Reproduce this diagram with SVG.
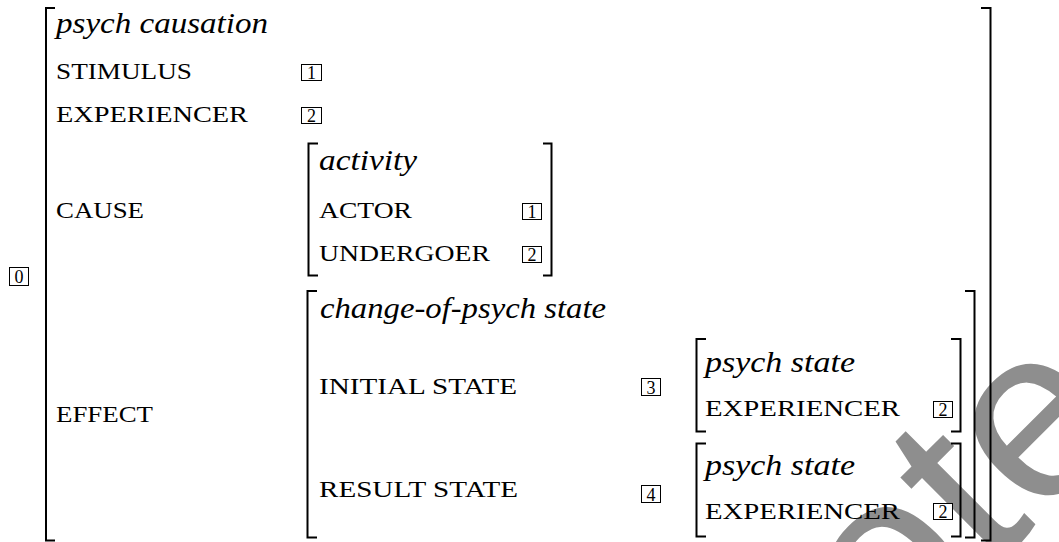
<svg xmlns="http://www.w3.org/2000/svg" width="1059" height="542" viewBox="0 0 1059 542">
<style>
.br{fill:none;stroke:#000;stroke-width:2}
.it{font-family:"Liberation Serif",serif;font-style:italic;font-size:29px;fill:#000}
.sc{font-family:"Liberation Serif",serif;font-size:23px;fill:#000}
.bx{fill:#fff;stroke:#000;stroke-width:1}
.d{font-family:"Liberation Serif",serif;font-size:18px;text-anchor:middle;fill:#000}
.wm{font-family:"Liberation Sans",Arial,sans-serif;font-size:245px;fill:#8e8e8e}
</style>
<rect width="1059" height="542" fill="#fff"/>
<g id="watermark"><text class="wm" transform="translate(893,668) rotate(-45)">ote</text></g>
<g id="brackets">
<path class="br" d="M55 8H46V540.5H55"/>
<path class="br" d="M981 8H990.5V540.5H981"/>
<path class="br" d="M318 143.5H308.5V275.5H318"/>
<path class="br" d="M543 143.5H551.5V275.5H543"/>
<path class="br" d="M317 291H307.5V537.5H317"/>
<path class="br" d="M965 291H974.5V537.5H965"/>
<path class="br" d="M706 339H696.5V431.5H706"/>
<path class="br" d="M951 339H960.5V431.5H951"/>
<path class="br" d="M706 443.5H696.5V536.5H706"/>
<path class="br" d="M951 443.5H960.5V536.5H951"/>
</g>
<g id="tag0"><rect class="bx" x="9.5" y="267.5" width="19" height="18"/><text class="d" x="19" y="282.5">0</text></g>
<g id="outer">
<text class="it" x="56" y="33" textLength="212" lengthAdjust="spacingAndGlyphs">psych causation</text>
<text class="sc" x="56" y="79" textLength="136" lengthAdjust="spacingAndGlyphs">STIMULUS</text>
<rect class="bx" x="301.5" y="64.5" width="20" height="16"/><text class="d" x="311.5" y="78.5">1</text>
<text class="sc" x="56" y="122" textLength="192" lengthAdjust="spacingAndGlyphs">EXPERIENCER</text>
<rect class="bx" x="301.5" y="107.5" width="20" height="16"/><text class="d" x="311.5" y="121.5">2</text>
<text class="sc" x="56" y="218" textLength="88" lengthAdjust="spacingAndGlyphs">CAUSE</text>
<text class="sc" x="56" y="421.5" textLength="97" lengthAdjust="spacingAndGlyphs">EFFECT</text>
</g>
<g id="activity">
<text class="it" x="319" y="170" textLength="98" lengthAdjust="spacingAndGlyphs">activity</text>
<text class="sc" x="319" y="218" textLength="93" lengthAdjust="spacingAndGlyphs">ACTOR</text>
<rect class="bx" x="522.5" y="203.5" width="19" height="16"/><text class="d" x="532" y="217.5">1</text>
<text class="sc" x="319" y="261" textLength="171" lengthAdjust="spacingAndGlyphs">UNDERGOER</text>
<rect class="bx" x="522.5" y="246.5" width="19" height="16"/><text class="d" x="532" y="260.5">2</text>
</g>
<g id="change">
<text class="it" x="320" y="318" textLength="286" lengthAdjust="spacingAndGlyphs">change-of-psych state</text>
<text class="sc" x="319" y="394" textLength="198" lengthAdjust="spacingAndGlyphs">INITIAL STATE</text>
<rect class="bx" x="641.5" y="378.5" width="19" height="17"/><text class="d" x="651" y="393.5">3</text>
<text class="sc" x="319" y="497" textLength="199" lengthAdjust="spacingAndGlyphs">RESULT STATE</text>
<rect class="bx" x="641.5" y="485.5" width="19" height="17"/><text class="d" x="651" y="500.5">4</text>
</g>
<g id="state1">
<text class="it" x="705" y="372" textLength="150" lengthAdjust="spacingAndGlyphs">psych state</text>
<text class="sc" x="705" y="416" textLength="195" lengthAdjust="spacingAndGlyphs">EXPERIENCER</text>
<rect class="bx" x="933.5" y="401.5" width="19" height="16"/><text class="d" x="943" y="415.5">2</text>
</g>
<g id="state2">
<text class="it" x="705" y="475" textLength="150" lengthAdjust="spacingAndGlyphs">psych state</text>
<text class="sc" x="705" y="519" textLength="195" lengthAdjust="spacingAndGlyphs">EXPERIENCER</text>
<rect class="bx" x="933.5" y="503.5" width="19" height="16"/><text class="d" x="943" y="517.5">2</text>
</g>
</svg>
